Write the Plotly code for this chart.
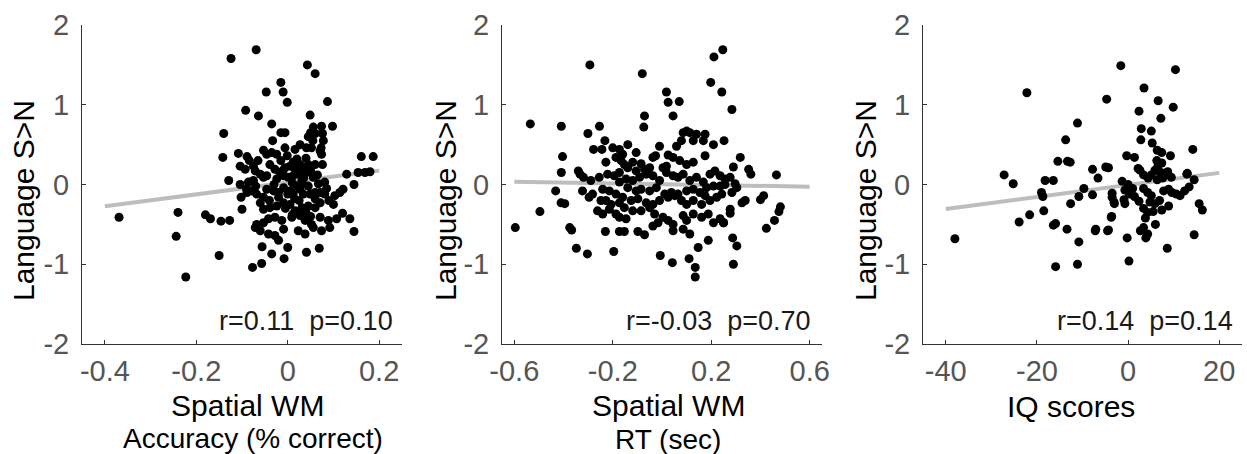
import numpy as np
import plotly.graph_objects as go

# ---------------- data ----------------
y_label = "Language S>N"
y_ticks = [-2, -1, 0, 1, 2]

# Panel 1: Spatial WM accuracy vs Language S>N
acc_points = [
    (-0.369, -0.41), (-0.24, -0.35), (-0.244, -0.65), (-0.223, -1.16), (-0.18, -0.38),
    (-0.169, -0.43), (-0.146, -0.46), (-0.127, -0.45), (-0.15, -0.89), (-0.14, 0.64),
    (-0.142, 0.34), (-0.129, 0.05), (-0.124, 1.58), (-0.069, 1.69), (-0.092, 0.93),
    (-0.108, 0.39), (-0.064, 0.86), (-0.047, 1.16), (-0.015, 1.28), (-0.010, 1.16),
    (-0.001, 1.03), (0.043, 1.50), (0.060, 1.39), (0.087, 1.04), (0.098, 0.73),
    (0.049, 0.87), (-0.035, 0.76), (-0.033, 0.55), (-0.015, 0.65), (-0.006, 0.65),
    (0.187, 0.35), (0.161, 0.35), (0.145, 0.0), (0.145, -0.59), (0.136, -0.43),
    (0.120, -0.36), (0.069, -0.80), (0.041, -0.85), (-0.008, -0.93), (-0.035, -0.87),
    (-0.057, -0.99), (-0.077, -1.04), (0.0, -0.79), (-0.056, -0.78), (-0.100, -0.31),
    (-0.102, -0.16),
    (0.050, 0.65), (0.060, 0.64), (0.056, 0.72), (0.074, 0.73), (0.076, 0.64),
    (0.078, 0.55), (0.073, 0.46),
    (-0.089, 0.35), (-0.084, 0.30), (-0.053, 0.43), (-0.046, 0.38), (-0.035, 0.40),
    (-0.024, 0.38), (-0.006, 0.46), (-0.001, 0.36), (0.016, 0.44), (0.027, 0.50),
    (0.041, 0.46), (0.052, 0.46), (0.071, 0.42), (0.074, 0.38),
    (-0.104, 0.23), (-0.093, 0.19), (-0.075, 0.23), (-0.071, 0.17), (-0.060, 0.13),
    (-0.039, 0.25), (-0.028, 0.19), (-0.017, 0.15), (-0.006, 0.21), (0.005, 0.23),
    (0.012, 0.28), (0.027, 0.25), (0.034, 0.19), (0.045, 0.25), (0.060, 0.25),
    (0.076, 0.25), (0.129, 0.13), (0.154, 0.15), (0.169, 0.15), (0.180, 0.16),
    (-0.104, 0.0), (-0.086, 0.03), (-0.075, 0.05), (-0.053, 0.09), (-0.046, 0.11),
    (-0.024, 0.07), (-0.009, 0.11), (0.001, 0.09), (0.012, 0.11), (0.023, 0.13),
    (0.031, 0.05), (0.041, 0.15), (0.056, 0.09), (0.067, 0.01), (0.081, 0.03),
    (-0.089, -0.10), (-0.079, -0.08), (-0.068, -0.12), (-0.053, -0.16), (-0.046, -0.06),
    (-0.031, -0.08), (-0.020, -0.10), (-0.009, -0.04), (0.005, -0.08), (0.012, -0.12),
    (0.027, -0.06), (0.034, -0.12), (0.049, -0.12), (0.060, -0.10), (0.071, -0.10),
    (0.081, -0.12), (0.103, -0.14), (0.114, -0.10), (0.121, -0.06),
    (-0.060, -0.23), (-0.053, -0.31), (-0.039, -0.29), (-0.024, -0.27), (-0.009, -0.23),
    (0.005, -0.25), (0.016, -0.33), (0.031, -0.29), (0.045, -0.27), (0.060, -0.29),
    (0.071, -0.23), (0.100, -0.25),
    (-0.068, -0.50), (-0.053, -0.48), (-0.042, -0.43), (-0.028, -0.41), (-0.013, -0.45),
    (0.009, -0.41), (0.027, -0.39), (0.038, -0.45), (0.052, -0.50), (0.071, -0.41),
    (0.089, -0.45), (0.107, -0.43),
    (-0.071, -0.54), (-0.060, -0.58), (-0.042, -0.62), (-0.028, -0.64), (-0.020, -0.70),
    (-0.009, -0.56), (0.023, -0.58), (0.038, -0.62), (0.056, -0.54), (0.074, -0.58),
    (0.092, -0.54),
    (0.010, 0.02), (0.020, -0.02), (0.030, 0.0), (0.000, -0.12), (0.015, -0.18),
    (0.025, -0.20), (-0.005, -0.30), (0.040, -0.35), (0.045, -0.02), (0.035, 0.08),
    (-0.010, 0.18), (0.015, 0.20), (0.050, 0.18), (-0.020, -0.16), (0.060, -0.18),
    (0.010, -0.38), (0.050, -0.40), (-0.030, 0.00), (0.065, 0.12), (-0.040, -0.20),
    (0.020, 0.32), (0.040, 0.33), (-0.015, 0.30), (0.055, 0.55), (0.045, 0.60),
    (-0.065, 0.30), (-0.070, -0.02), (-0.090, -0.06), (0.085, -0.05), (0.090, -0.20),
]

# Panel 2: Spatial WM RT vs Language S>N
rt_points = [
    (-0.596, -0.54), (-0.535, 0.76), (-0.496, -0.34), (-0.409, 0.73), (-0.404, 0.35),
    (-0.409, 0.15), (-0.432, -0.08), (-0.41, -0.23), (-0.395, -0.24), (-0.375, -0.54),
    (-0.367, -0.57), (-0.348, -0.80), (-0.303, -0.87), (-0.293, 1.50), (-0.301, 0.64),
    (-0.254, 0.73), (-0.232, 0.55), (-0.278, 0.44), (-0.196, -0.84), (-0.23, -0.59),
    (-0.08, 1.39), (-0.071, 0.86), (-0.074, 0.72), (0.018, 1.16), (0.025, 1.03),
    (0.07, 1.04), (0.045, 0.86), (-0.007, -0.89), (0.042, -0.98), (0.11, -0.93),
    (0.135, -1.04), (0.135, -1.16), (0.147, -0.79), (0.188, -0.70), (0.211, 1.60),
    (0.247, 1.69), (0.198, 1.28), (0.243, 1.16), (0.284, 0.94), (0.252, 0.55),
    (0.318, 0.34), (0.352, 0.19), (0.361, 0.13), (0.29, 0.22), (0.465, 0.12),
    (0.413, -0.14), (0.40, -0.19), (0.424, -0.55), (0.457, -0.45), (0.475, -0.34),
    (0.481, -0.28), (0.29, -1.0), (0.304, -0.77), (0.287, -0.67), (0.277, -0.36),
    (0.277, -0.31), (0.325, -0.23), (0.338, -0.20), (0.25, -0.48), (0.188, -0.37),
    (0.086, 0.65), (0.100, 0.67), (0.113, 0.65), (0.140, 0.63), (0.175, 0.63),
    (0.127, 0.55), (0.168, 0.55), (0.079, 0.55), (-0.010, 0.48), (-0.200, 0.46),
    (-0.173, 0.44), (-0.139, 0.50), (-0.105, 0.40), (-0.026, 0.36), (0.059, 0.48),
    (0.209, 0.50), (-0.160, 0.38), (-0.244, 0.44),
    (-0.228, 0.28), (-0.187, 0.34), (-0.166, 0.30), (-0.153, 0.25), (-0.119, 0.28),
    (-0.085, 0.26), (-0.037, 0.34), (0.025, 0.37), (0.045, 0.34), (0.072, 0.30),
    (0.100, 0.25), (0.127, 0.28), (0.175, 0.36), (0.018, 0.23), (0.004, 0.21),
    (-0.050, 0.21), (-0.071, 0.19), (-0.105, 0.17), (-0.139, 0.21), (-0.173, 0.15),
    (0.195, 0.13), (0.215, 0.17), (0.236, 0.11), (0.256, 0.07), (0.277, 0.09),
    (0.297, 0.01), (-0.340, 0.17), (-0.333, 0.13), (-0.319, 0.09), (-0.289, 0.05),
    (0.304, -0.04),
    (-0.255, 0.09), (-0.221, 0.13), (-0.194, 0.11), (-0.173, 0.03), (-0.146, 0.07),
    (-0.119, 0.05), (-0.091, 0.09), (-0.064, 0.13), (-0.037, 0.11), (-0.010, 0.05),
    (0.018, 0.15), (0.045, 0.11), (0.065, 0.09), (0.086, 0.13), (0.113, 0.05),
    (0.140, 0.09), (0.168, 0.03), (0.181, -0.04), (0.209, -0.02), (0.236, -0.02),
    (0.256, 0.0), (-0.241, -0.06), (-0.214, -0.08), (-0.187, -0.12), (-0.160, -0.16),
    (-0.139, -0.04), (-0.105, -0.08), (-0.085, -0.06), (-0.050, -0.08), (-0.023, -0.04),
    (0.011, -0.12), (0.038, -0.10), (0.065, -0.12), (0.100, -0.08), (0.127, -0.06),
    (0.154, -0.10), (0.175, -0.14),
    (-0.323, -0.08), (-0.296, -0.16), (-0.282, -0.12), (-0.248, -0.20), (-0.228, -0.20),
    (-0.207, -0.25), (-0.173, -0.23), (-0.153, -0.29), (-0.125, -0.20), (-0.098, -0.18),
    (-0.064, -0.23), (-0.037, -0.25), (-0.010, -0.20), (0.025, -0.16), (0.052, -0.14),
    (0.079, -0.20), (0.100, -0.25), (0.127, -0.20), (0.161, -0.25), (0.195, -0.20),
    (0.222, -0.16), (0.243, -0.12), (0.284, -0.10),
    (-0.262, -0.33), (-0.241, -0.37), (-0.214, -0.31), (-0.187, -0.37), (-0.173, -0.41),
    (-0.146, -0.43), (-0.119, -0.33), (-0.085, -0.33), (-0.050, -0.29), (-0.030, -0.37),
    (0.004, -0.41), (0.025, -0.45), (0.045, -0.50), (0.086, -0.39), (0.100, -0.45),
    (0.127, -0.37), (0.161, -0.41), (0.209, -0.48), (0.236, -0.43), (0.250, -0.48),
    (-0.173, -0.59), (-0.153, -0.59), (-0.098, -0.59), (-0.071, -0.63), (-0.037, -0.52),
    (-0.016, -0.48), (0.045, -0.58), (0.086, -0.56), (0.113, -0.62),
]

# Panel 3: IQ scores vs Language S>N
iq_points = [
    (-38.0, -0.68), (-27.2, 0.12), (-25.2, 0.01), (-23.9, -0.47), (-22.2, 1.15),
    (-21.6, -0.38), (-19.0, -0.10), (-18.7, -0.15), (-18.2, 0.05), (-16.4, 0.05),
    (-18.5, -0.33), (-16.4, -0.51), (-15.9, -0.49), (-15.9, -1.03), (-15.4, 0.29),
    (-13.7, 0.56), (-13.3, 0.29), (-12.7, 0.28), (-13.4, -0.56), (-12.6, -0.24),
    (-11.1, 0.77), (-11.1, -1.0), (-10.8, -0.72), (-10.8, -0.15), (-9.7, -0.05),
    (-7.8, 0.19), (-7.8, -0.13), (-7.1, -0.56), (-6.6, 0.08), (-4.9, 0.22),
    (-4.3, 0.21), (-4.7, 1.07), (-4.3, -0.57), (-3.5, -0.11), (-3.6, -0.40),
    (-3.1, -0.22), (-1.6, 1.49), (-1.3, 0.04), (-0.7, -0.07), (-0.9, -0.19),
    (-0.2, -0.67), (0.2, -0.96), (-0.3, 0.36), (1.4, 0.34), (2.4, 0.92),
    (2.9, 0.70), (2.8, 0.56), (3.5, 1.21), (5.1, 0.67), (5.3, 0.52),
    (6.6, 1.05), (7.2, 0.83), (9.9, 0.97), (10.4, 1.44), (9.3, 0.36),
    (14.2, 0.44), (14.5, -0.63), (8.6, -0.80), (15.6, -0.24), (16.3, -0.32),
    (13.0, 0.14), (14.5, 0.06),
    (2.2, 0.20), (2.6, 0.18), (5.9, 0.18), (6.9, 0.16), (7.9, 0.14),
    (8.7, 0.16), (3.4, 0.12), (5.1, 0.12), (6.3, 0.30), (7.4, 0.27),
    (6.6, 0.24), (4.4, 0.08), (6.4, 0.06), (7.6, 0.08), (9.5, 0.09),
    (12.9, 0.13), (0.0, 0.00), (1.0, -0.05), (0.3, -0.12), (1.4, -0.15),
    (-3.5, -0.16), (-3.0, -0.24), (-0.7, -0.24), (2.4, -0.21), (3.4, -0.05),
    (4.3, -0.10), (5.1, -0.14), (4.8, -0.22), (5.9, -0.24), (6.9, -0.20),
    (7.8, -0.08), (8.9, -0.06), (9.6, -0.10), (10.6, -0.12), (11.4, -0.14),
    (12.4, -0.08), (13.4, -0.03), (8.9, -0.27), (7.4, -0.32), (3.4, -0.30),
    (4.3, -0.35), (5.5, -0.34), (6.0, -0.50), (3.8, -0.42), (3.4, -0.54),
    (2.7, -0.58), (4.3, -0.62), (3.9, -0.67), (-3.7, -0.41), (-7.2, -0.58),
    (-4.5, -0.58), (6.4, 0.43), (7.4, 0.40),
]

panels = [
    dict(points=acc_points, xrange=[-0.45, 0.25], xticks=[-0.4, -0.2, 0, 0.2],
         xticklabels=["-0.4", "-0.2", "0", "0.2"], fit_x=[-0.4, 0.2],
         title="Spatial WM", subtitle="Accuracy (% correct)", stats="r=0.11  p=0.10"),
    dict(points=rt_points, xrange=[-0.65, 0.65], xticks=[-0.6, -0.2, 0.2, 0.6],
         xticklabels=["-0.6", "-0.2", "0.2", "0.6"], fit_x=[-0.6, 0.6],
         title="Spatial WM", subtitle="RT (sec)", stats="r=-0.03  p=0.70"),
    dict(points=iq_points, xrange=[-45, 25], xticks=[-40, -20, 0, 20],
         xticklabels=["-40", "-20", "0", "20"], fit_x=[-40, 20],
         title="IQ scores", subtitle="", stats="r=0.14  p=0.14"),
]

# ---------------- layout geometry (pixels of the 1247x454 canvas) ----------------
W, H = 1247, 454
x_dom_px = [(82, 402), (502, 822), (923, 1242)]
y_dom_px = (25, 344)  # top, bottom
ytitle_x_px = [23, 445, 865]
xtitle_px = [(247, 405), (668, 405), (1071, 406)]
sub_px = [(253, 438), (668, 439), None]
stats_px = [(395, 321), (813, 321), (1235, 321)]

FONT = "Liberation Sans, Arial, sans-serif"
TICK_COLOR = "#555555"

fig = go.Figure()
annotations = []

for i, p in enumerate(panels):
    n = "" if i == 0 else str(i + 1)
    xs = np.array([q[0] for q in p["points"]])
    ys = np.array([q[1] for q in p["points"]])
    slope, intercept = np.polyfit(xs, ys, 1)
    fx = np.array(p["fit_x"], dtype=float)
    fy = slope * fx + intercept

    fig.add_trace(go.Scatter(x=fx, y=fy, mode="lines", xaxis="x" + n, yaxis="y" + n,
                             line=dict(color="#bdbdbd", width=4), showlegend=False,
                             hoverinfo="skip"))
    fig.add_trace(go.Scatter(x=xs, y=ys, mode="markers", xaxis="x" + n, yaxis="y" + n,
                             marker=dict(color="black", size=9, line=dict(width=0)),
                             showlegend=False))

    x0, x1 = x_dom_px[i]
    axis_common = dict(showgrid=False, zeroline=False, showline=True, linecolor="#333333",
                       linewidth=1, ticks="inside", ticklen=4, tickcolor="#333333",
                       automargin=False,
                       tickfont=dict(family=FONT, size=29, color=TICK_COLOR))
    fig.update_layout(**{
        "xaxis" + n: dict(domain=[x0 / W, x1 / W], range=p["xrange"], anchor="y" + n,
                          tickvals=p["xticks"], ticktext=p["xticklabels"],
                          ticklabelstandoff=1, **axis_common),
        "yaxis" + n: dict(domain=[1 - y_dom_px[1] / H, 1 - y_dom_px[0] / H], range=[-2, 2],
                          anchor="x" + n, tickvals=y_ticks,
                          ticktext=[str(t) for t in y_ticks],
                          ticklabelstandoff=6, **axis_common),
    })

    annotations.append(dict(text=y_label, textangle=-90, xref="paper", yref="paper",
                            x=ytitle_x_px[i] / W, y=1 - 201 / H, showarrow=False,
                            xanchor="center", yanchor="middle",
                            font=dict(family=FONT, size=30, color="black")))
    tx, ty = xtitle_px[i]
    annotations.append(dict(text=p["title"], xref="paper", yref="paper", x=tx / W,
                            y=1 - ty / H, showarrow=False, xanchor="center",
                            yanchor="middle", font=dict(family=FONT, size=30, color="black")))
    if p["subtitle"]:
        sx, sy = sub_px[i]
        annotations.append(dict(text=p["subtitle"], xref="paper", yref="paper", x=sx / W,
                                y=1 - sy / H, showarrow=False, xanchor="center",
                                yanchor="middle",
                                font=dict(family=FONT, size=28, color="black")))
    rx, ry = stats_px[i]
    annotations.append(dict(text=p["stats"], xref="paper", yref="paper", x=rx / W,
                            y=1 - ry / H, showarrow=False, xanchor="right",
                            yanchor="middle", font=dict(family=FONT, size=27, color="#1a1a1a")))

fig.update_layout(width=W, height=H, margin=dict(l=0, r=0, t=0, b=0, pad=0, autoexpand=False),
                  paper_bgcolor="white", plot_bgcolor="white",
                  annotations=annotations, font=dict(family=FONT))

# remove the browser's default 8px page margin so the figure sits at the window origin
fig.write_html("out.html", config={"displayModeBar": False},
               post_script="document.body.style.margin='0';document.body.style.overflow='hidden';")
